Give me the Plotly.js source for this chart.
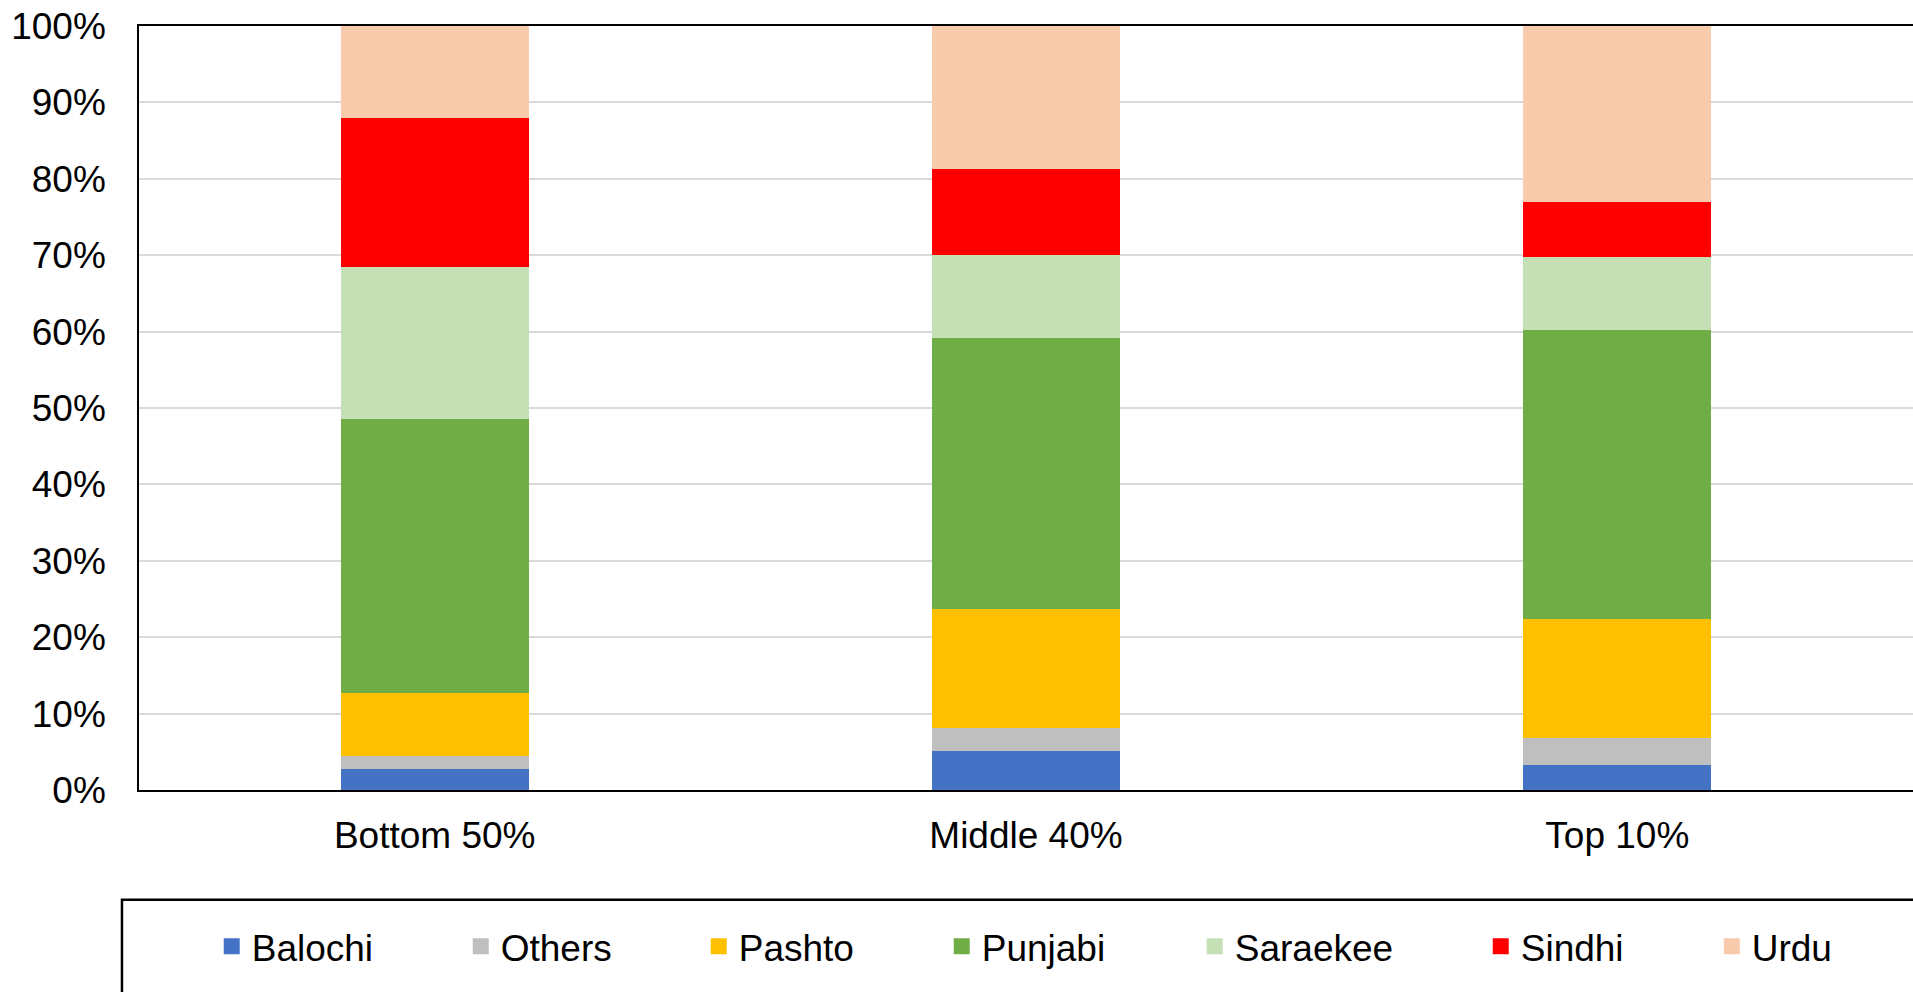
<!DOCTYPE html>
<html>
<head>
<meta charset="utf-8">
<script src="https://cdn.plot.ly/plotly-3.0.1.min.js"></script>
<style>html,body{margin:0;padding:0;background:#fff;}#chart{width:1913px;height:992px;}</style>
</head>
<body>
<div id="chart"></div>
<script>
// Categories (income groups)
const categories = ["Bottom 50%", "Middle 40%", "Top 10%"];

// Share of each language group (%) per category
const balochi  = [2.8, 5.1, 3.3];
const others   = [1.6, 3.0, 3.5];
const pashto   = [8.3, 15.6, 15.6];
const punjabi  = [35.8, 35.4, 37.8];
const saraekee = [20.0, 10.9, 9.6];
const sindhi   = [19.5, 11.3, 7.2];
const urdu     = [12.0, 18.7, 23.0];

const seriesNames  = ["Balochi", "Others", "Pashto", "Punjabi", "Saraekee", "Sindhi", "Urdu"];
const seriesValues = [balochi, others, pashto, punjabi, saraekee, sindhi, urdu];
const seriesColors = ["#4472C4", "#BFBFBF", "#FFC000", "#70AD47", "#C5E0B4", "#FF0000", "#F8CBAD"];
const legendWidths = [204, 193, 198, 208, 241, 186, 85];

const yTickVals = [0, 10, 20, 30, 40, 50, 60, 70, 80, 90, 100];

const FONT = '"Liberation Sans", Arial, sans-serif';

const traces = [];
seriesNames.forEach((name, i) => {
  traces.push({
    type: 'bar',
    name: name,
    x: categories,
    y: seriesValues[i],
    width: 0.318,
    marker: {color: seriesColors[i], line: {width: 0}},
    showlegend: false,
    hovertemplate: '%{x}<br>' + name + ': %{y}%<extra></extra>'
  });
});
// legend entries (square symbols)
seriesNames.forEach((name, i) => {
  traces.push({
    type: 'scatter',
    mode: 'markers',
    name: name,
    x: [null],
    y: [null],
    marker: {symbol: 'square', size: 16, color: seriesColors[i]},
    legendwidth: legendWidths[i],
    showlegend: true,
    hoverinfo: 'skip'
  });
});

const layout = {
  width: 1913,
  height: 992,
  margin: {l: 139, r: 0, t: 26, b: 202},
  paper_bgcolor: '#ffffff',
  plot_bgcolor: '#ffffff',
  barmode: 'stack',
  font: {family: FONT, size: 37, color: '#000000'},
  showlegend: true,
  xaxis: {
    type: 'category',
    range: [-0.5, 2.5],
    showline: true,
    linecolor: '#000000',
    linewidth: 2,
    mirror: true,
    showgrid: false,
    ticks: '',
    ticklabelstandoff: 12,
    tickfont: {family: FONT, size: 37, color: '#000000'},
    fixedrange: true
  },
  yaxis: {
    range: [0, 100],
    tickvals: yTickVals,
    ticktext: yTickVals.map(v => v + '%'),
    showline: true,
    linecolor: '#000000',
    linewidth: 1.5,
    showgrid: true,
    gridcolor: '#D9D9D9',
    gridwidth: 2,
    zeroline: false,
    ticks: '',
    ticklabelstandoff: 24,
    tickfont: {family: FONT, size: 37, color: '#000000'},
    fixedrange: true
  },
  legend: {
    orientation: 'h',
    x: 0.041,
    xanchor: 'left',
    y: -0.2052,
    yanchor: 'middle',
    itemwidth: 30,
    itemsizing: 'trace',
    font: {family: FONT, size: 37, color: '#000000'},
    bgcolor: 'rgba(0,0,0,0)',
    borderwidth: 0,
    traceorder: 'normal'
  },
  shapes: [{
    type: 'rect',
    xref: 'paper', yref: 'paper',
    x0: -0.0096, x1: 1.02,
    y0: -0.1438, y1: -0.40,
    line: {color: '#000000', width: 2.5},
    fillcolor: 'rgba(0,0,0,0)',
    layer: 'below'
  }]
};

Plotly.newPlot('chart', traces, layout, {displayModeBar: false, staticPlot: false});
</script>
</body>
</html>
